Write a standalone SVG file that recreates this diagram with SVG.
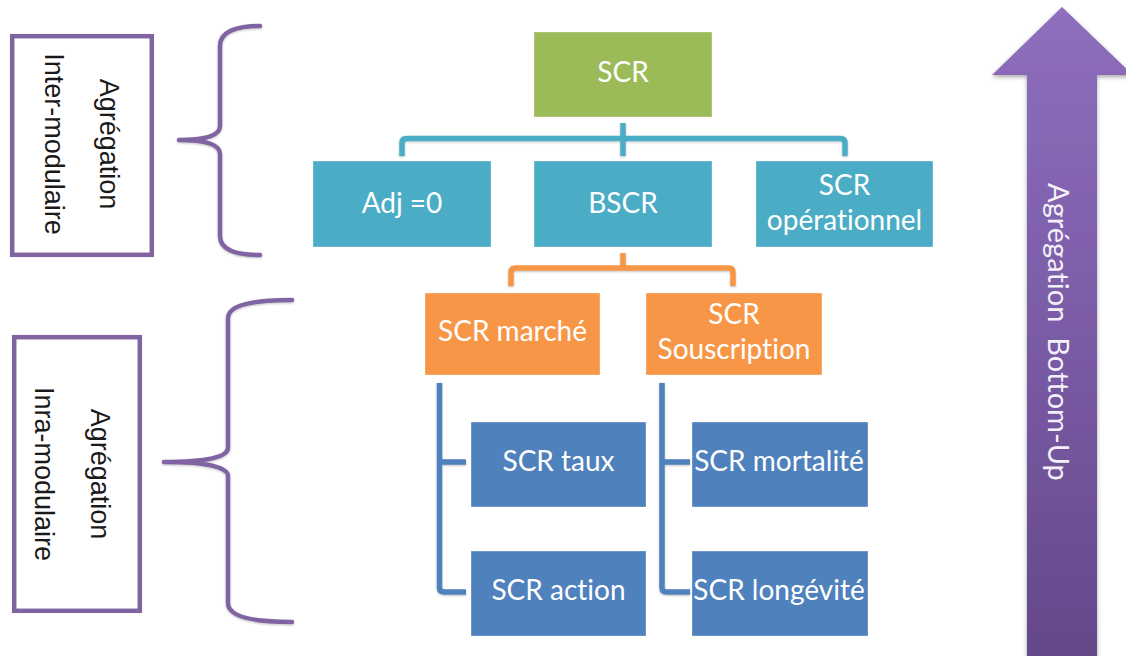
<svg xmlns="http://www.w3.org/2000/svg" width="1126" height="656" viewBox="0 0 1126 656">
  <defs>
    <style>
      .node-text { font-family: Lato, "Open Sans", "Liberation Sans", sans-serif; font-size: 28px; fill: #ffffff; text-anchor: middle; font-variant-ligatures: none; }
      .side-text { font-family: "Liberation Sans", Arial, sans-serif; font-size: 27px; fill: #1a1a1a; text-anchor: middle; }
      .arrow-text { font-family: Lato, "Open Sans", "Liberation Sans", sans-serif; font-size: 29px; fill: #f4f0f8; text-anchor: middle; font-variant-ligatures: none; }
      .frame { fill: #ffffff; stroke: #8064a2; stroke-width: 4.5; }
      .brace { fill: none; stroke: #8064a2; stroke-width: 4.5; stroke-linecap: round; stroke-linejoin: round; }
      .link { fill: none; stroke-width: 5.5; stroke-linecap: butt; stroke-linejoin: round; }
      .green { fill: #9bbb59; }
      .teal { fill: #4bacc6; }
      .orange { fill: #f79646; }
      .blue { fill: #4f81bd; }
      .box { stroke: #ffffff; stroke-opacity: 0.35; stroke-width: 1; }
    </style>
    <linearGradient id="arrowFill" x1="0" y1="0" x2="0" y2="1">
      <stop offset="0" stop-color="#8e6fbd"/>
      <stop offset="0.5" stop-color="#7a5ba6"/>
      <stop offset="1" stop-color="#644889"/>
    </linearGradient>
    <filter id="softShadow" x="-20%" y="-5%" width="140%" height="110%">
      <feDropShadow dx="0" dy="2" stdDeviation="2" flood-color="#000000" flood-opacity="0.35"/>
    </filter>
    <filter id="lineShadow" x="-10%" y="-10%" width="120%" height="120%">
      <feDropShadow dx="0" dy="1" stdDeviation="1" flood-color="#000000" flood-opacity="0.25"/>
    </filter>
  </defs>

  <rect width="1126" height="656" fill="#ffffff"/>

  <!-- side labels -->
  <g id="label-inter">
    <rect class="frame" x="12.2" y="36.2" width="139.6" height="218.6"/>
    <g transform="translate(0,144) rotate(90)">
      <text class="side-text" x="0" y="-100">Agrégation</text>
      <text class="side-text" x="0" y="-45">Inter-modulaire</text>
    </g>
  </g>
  <g id="label-intra">
    <rect class="frame" x="14.2" y="337.2" width="125.6" height="273.6"/>
    <g transform="translate(0,474) rotate(90)">
      <text class="side-text" x="0" y="-91">Agrégation</text>
      <text class="side-text" x="0" y="-35">Inra-modulaire</text>
    </g>
  </g>

  <!-- braces -->
  <g id="brace-inter" filter="url(#lineShadow)">
    <path class="brace" d="M260,26 Q220,26 220,46 L220,126 Q220,140 179,140 Q220,140 220,154 L220,236 Q220,255 260,255"/>
  </g>
  <g id="brace-intra" filter="url(#lineShadow)">
    <path class="brace" d="M292,300 Q228,300 228,318 L228,448 Q228,462 164,462 Q228,462 228,476 L228,603 Q228,622 292,622"/>
  </g>

  <!-- connectors -->
  <g id="connectors" filter="url(#lineShadow)">
    <path class="link" stroke="#4bacc6" d="M623,123 V156"/>
    <path class="link" stroke="#4bacc6" d="M402,156 V143 Q402,138.5 406.5,138.5 H840.5 Q845,138.5 845,143 V156"/>
    <path class="link" stroke="#f79646" d="M623,253 V268"/>
    <path class="link" stroke="#f79646" d="M511,286 V272.5 Q511,268 515.5,268 H728.5 Q733,268 733,272.5 V286"/>
    <path class="link" stroke="#4f81bd" d="M439.5,383 V587.5 Q439.5,592 444,592 H466"/>
    <path class="link" stroke="#4f81bd" d="M439.5,462 H466"/>
    <path class="link" stroke="#4f81bd" d="M662,383 V587.5 Q662,592 666.5,592 H690"/>
    <path class="link" stroke="#4f81bd" d="M662,462 H690"/>
  </g>

  <!-- tree nodes -->
  <g id="node-scr">
    <rect class="green box" x="534" y="32" width="178" height="85"/>
    <text class="node-text" x="623" y="82">SCR</text>
  </g>
  <g id="node-adj">
    <rect class="teal box" x="313" y="161" width="178" height="86"/>
    <text class="node-text" x="402" y="213">Adj =0</text>
  </g>
  <g id="node-bscr">
    <rect class="teal box" x="534" y="161" width="178" height="86"/>
    <text class="node-text" x="623" y="213">BSCR</text>
  </g>
  <g id="node-operationnel">
    <rect class="teal box" x="756" y="161" width="177" height="86"/>
    <text class="node-text" x="844.5" y="195">SCR</text>
    <text class="node-text" x="844.5" y="230">opérationnel</text>
  </g>
  <g id="node-marche">
    <rect class="orange box" x="425" y="293" width="175" height="82"/>
    <text class="node-text" x="512.5" y="341">SCR marché</text>
  </g>
  <g id="node-souscription">
    <rect class="orange box" x="646" y="293" width="176" height="82"/>
    <text class="node-text" x="734" y="324">SCR</text>
    <text class="node-text" x="734" y="359">Souscription</text>
  </g>
  <g id="node-taux">
    <rect class="blue box" x="471" y="422" width="175" height="85"/>
    <text class="node-text" x="558.5" y="471">SCR taux</text>
  </g>
  <g id="node-action">
    <rect class="blue box" x="471" y="551" width="175" height="85"/>
    <text class="node-text" x="558.5" y="600">SCR action</text>
  </g>
  <g id="node-mortalite">
    <rect class="blue box" x="692" y="422" width="176" height="85"/>
    <text class="node-text" x="779" y="471">SCR mortalité</text>
  </g>
  <g id="node-longevite">
    <rect class="blue box" x="692" y="551" width="176" height="85"/>
    <text class="node-text" x="779" y="600">SCR longévité</text>
  </g>

  <!-- bottom-up arrow -->
  <g id="arrow-bottom-up">
    <polygon points="1062,7 1133,75 1097,75 1097,662 1027,662 1027,75 992,75" fill="url(#arrowFill)" filter="url(#softShadow)"/>
    <text class="arrow-text" transform="translate(1048,332) rotate(90)" x="0" y="0">Agrégation&#160; Bottom-Up</text>
  </g>
</svg>
